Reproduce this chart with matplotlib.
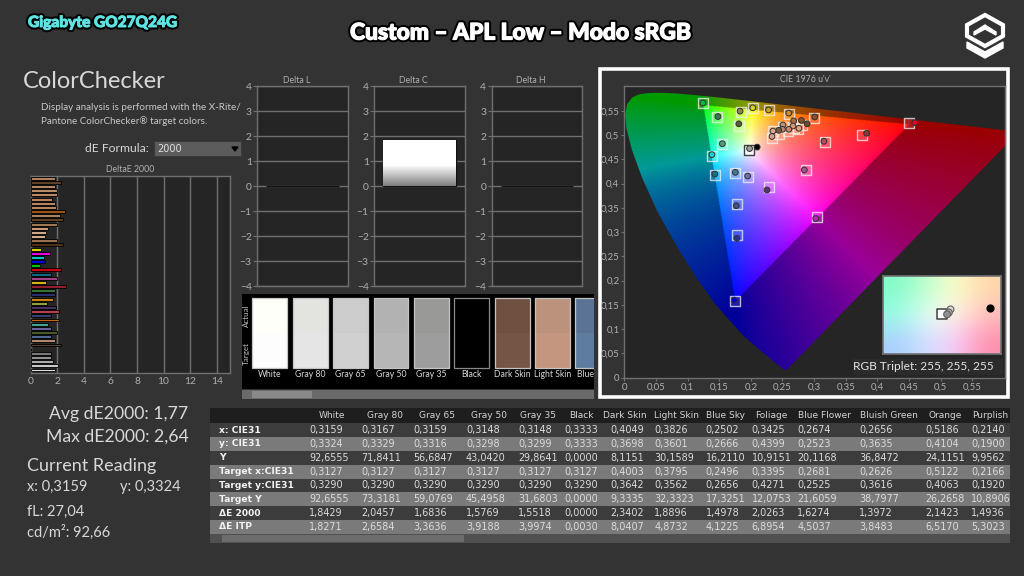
import numpy as np
import matplotlib
matplotlib.use("Agg")
import matplotlib.pyplot as plt
import matplotlib.patheffects as pe
from matplotlib.patches import Polygon, Rectangle

W, H = 1024, 576
BG = "#333333"
PANEL = "#252525"
SPINE = "#707070"
TICK = "#b0b0b0"
TEXT = "#d8d8d8"

plt.rcParams['font.family'] = 'Lato'

# DeltaE 2000 bars, top to bottom
de_values = [1.8, 2.3, 1.85, 1.95, 1.95, 1.6, 1.8, 1.9, 2.6, 2.2, 2.4, 2.0, 1.3, 1.15, 1.05, 1.95, 2.4,
             0.75, 1.45, 1.0, 1.1, 0.7, 2.25, 1.5, 2.0, 1.15, 2.65, 1.8, 1.8, 1.65, 1.25, 1.9, 2.15, 1.5,
             2.15, 1.3, 1.55, 2.0, 1.5, 1.85, 2.3, 0.0, 1.55, 1.55, 1.65, 2.05, 1.85]
de_colors = ["#b08060", "#5e4028", "#b48464", "#b88a66", "#b88864", "#b88060", "#b88060", "#b88260",
             "#985418", "#a88060", "#604020", "#a07850", "#c89878", "#d0a888", "#d0ac8c", "#987050",
             "#503018", "#d8d000", "#e000e0", "#00c0c0", "#0000d8", "#00c000", "#c80010", "#106878",
             "#a04088", "#d8b018", "#902030", "#387038", "#283070", "#c88018", "#90a038", "#483060",
             "#b04050", "#304070", "#c06818", "#48a090", "#686098", "#485828", "#506890", "#b08870",
             "#584030", "#000000", "#787878", "#909090", "#acacac", "#c8c8c8", "#e0e0e0"]
de_ticks = [0, 2, 4, 6, 8, 10, 12, 14]

# Delta L / C / H panels
delta_titles = ["Delta L", "Delta C", "Delta H"]
delta_values = [0.0, 1.85, 0.0]
delta_ticks = [-4, -3, -2, -1, 0, 1, 2, 3, 4]

# Swatch strip
swatch_labels = ["White", "Gray 80", "Gray 65", "Gray 50", "Gray 35", "Black", "Dark Skin", "Light Skin", "Blue Sky"]
swatch_actual = ["#fffff9", "#e3e3e0", "#cccccc", "#b2b2b2", "#999998", "#000000", "#6e4f40", "#bc927c", "#5a7396"]
swatch_target = ["#fdfdfd", "#e5e5e5", "#d0d0d0", "#b6b6b6", "#9d9d9d", "#000000", "#755545", "#c4957f", "#5e7ba0"]

# Spectral locus, CIE 1931 xy
locus_x = [.1741, .1733, .1714, .1644, .1566, .1440, .1241, .1096, .0913, .0687, .0454, .0235, .0082, .0039,
           .0139, .0389, .0743, .1142, .1547, .1929, .2296, .2658, .3016, .3373, .3731, .4441, .5125, .5752,
           .6270, .6658, .6915, .7190, .7347]
locus_y = [.0050, .0048, .0051, .0109, .0177, .0297, .0578, .0868, .1327, .2007, .2950, .4127, .5384, .6548,
           .7502, .8120, .8338, .8262, .8059, .7816, .7543, .7243, .6923, .6589, .6245, .5547, .4866, .4242,
           .3725, .3340, .3083, .2809, .2653]

# Targets and readings on the u'v' chart
target_u = [.1243, .147, .1844, .2034, .2287, .26, .1818, .1538, .1386, .1433, .175, .195, .228, .1776,
            .1776, .1754, .3045, .287, .317, .375, .4505, .2993, .281, .275, .2587, .2513, .2445, .2345, .233, .268]
target_v = [.5653, .536, .5467, .5556, .552, .5426, .5185, .4808, .4567, .4183, .4217, .414, .3935, .357,
            .2946, .1587, .3317, .428, .4856, .5, .5254, .5357, .5206, .5117, .509, .517, .5014, .508, .4945, .5145]
meas_u = [.1243, .148, .183, .203, .228, .26, .181, .155, .1385, .143, .1755, .195, .198, .21, .2255, .177, .178,
          .174, .3025, .2845, .3155, .383, .459, .301, .289, .28, .2676, .276, .2666, .2508, .26, .25, .244, .235, .2334]
meas_v = [.566, .538, .549, .556, .5515, .545, .523, .482, .4595, .4196, .423, .4155, .472, .475, .3867, .3544, .287,
          .16, .328, .428, .487, .5035, .5254, .537, .523, .53, .529, .5137, .5185, .5206, .5117, .5117, .5096, .508, .497]
meas_colors = ["#00c040", "#3c7860", "#88884c", "#d8d020", "#c8a428", "#c88c38", "#585c38", "#50a080", "#20d0d8",
               "#087890", "#487898", "#7070a8", "#a0a0a0", "#000000", "#583868", "#405088", "#283880", "#0000c8",
               "#c020c8", "#a05890", "#b05068", "#903838", "#e80020", "#8c5028", "#784828", "#885030", "#a87048",
               "#e8a080", "#d89878", "#c89070", "#c88870", "#c08468", "#805840", "#d8a890", "#d8a080"]
white_target = (.197, .4698)
ticks_cie = [0, .05, .1, .15, .2, .25, .3, .35, .4, .45, .5, .55]
tick_labels = ["0", "0,05", "0,1", "0,15", "0,2", "0,25", "0,3", "0,35", "0,4", "0,45", "0,5", "0,55"]

# Inset colours and marks
inset_colors = [[(130, 250, 200), (190, 255, 205), (255, 255, 200), (255, 215, 170)],
                [(150, 255, 230), (235, 255, 250), (255, 245, 232), (255, 190, 190)],
                [(170, 205, 255), (210, 225, 255), (250, 200, 250), (255, 140, 170)]]
inset_x = [.542, .557, .571]
inset_y = [.507, .53, .57]
inset_gray = ["#909090", "#b0b0b0", "#d8d8d8"]
inset_target = (.496, .506)
inset_black = (.909, .592)

# Table
col_names = ["White", "Gray 80", "Gray 65", "Gray 50", "Gray 35", "Black", "Dark Skin", "Light Skin", "Blue Sky",
             "Foliage", "Blue Flower", "Bluish Green", "Orange", "Purplish"]
row_names = ["x: CIE31", "y: CIE31", "Y", "Target x:CIE31", "Target y:CIE31", "Target Y", "ΔE 2000", "ΔE ITP"]
row_x = "0,3159 0,3167 0,3159 0,3148 0,3148 0,3333 0,4049 0,3826 0,2502 0,3425 0,2674 0,2656 0,5186 0,2140".split()
row_y = "0,3324 0,3329 0,3316 0,3298 0,3299 0,3333 0,3698 0,3601 0,2666 0,4399 0,2523 0,3635 0,4104 0,1900".split()
row_lum = "92,6555 71,8411 56,6847 43,0420 29,8641 0,0000 8,1151 30,1589 16,2110 10,9151 20,1168 36,8472 24,1151 9,9562".split()
row_tx = "0,3127 0,3127 0,3127 0,3127 0,3127 0,3127 0,4003 0,3795 0,2496 0,3395 0,2681 0,2626 0,5122 0,2166".split()
row_ty = "0,3290 0,3290 0,3290 0,3290 0,3290 0,3290 0,3642 0,3562 0,2656 0,4271 0,2525 0,3616 0,4063 0,1920".split()
row_tlum = "92,6555 73,3181 59,0769 45,4958 31,6803 0,0000 9,3335 32,3323 17,3251 12,0753 21,6059 38,7977 26,2658 10,8906".split()
row_de = "1,8429 2,0457 1,6836 1,5769 1,5518 0,0000 2,3402 1,8896 1,4978 2,0263 1,6274 1,3972 2,1423 1,4936".split()
row_itp = "1,8271 2,6584 3,3636 3,9188 3,9974 0,0030 8,0407 4,8732 4,1225 6,8954 4,5037 3,8483 6,5170 5,3023".split()
table_rows = [row_x, row_y, row_lum, row_tx, row_ty, row_tlum, row_de, row_itp]
col_left = [309, 361.7, 413.7, 466, 518.3, 564.3, 610, 654.3, 705.7, 751.7, 797.3, 859, 925, 971]
col_head = [332, 384.7, 437, 489, 538, 581, 625, 676.7, 725, 771.7, 825, 889, 945, 990]


def px_axes(fig, left, top, right, bottom, **kw):
	return fig.add_axes([left / W, 1 - bottom / H, (right - left) / W, (bottom - top) / H], **kw)


def style_axes(ax):
	ax.set_facecolor(PANEL)
	for s in ax.spines.values():
		s.set_color(SPINE)
		s.set_linewidth(1.0)
	ax.tick_params(colors=TICK, labelsize=7.4, length=3, width=0.8, color=SPINE, pad=1)


def uv_from_xy(x, y):
	x = np.array(x)
	y = np.array(y)
	d = -2 * x + 12 * y + 3
	return 4 * x / d, 9 * y / d


def gamut_image(n=700):
	# Colour of each u'v' position, dimmed outside the sRGB triangle
	u, v = np.meshgrid(np.linspace(0, 0.65, n), np.linspace(0.0, 0.62, n))
	v = np.maximum(v, 1e-4)
	X = 9 * u / (4 * v)
	Z = (12 - 3 * u - 20 * v) / (4 * v)
	r = 3.2406 * X - 1.5372 - 0.4986 * Z
	g = -0.9689 * X + 1.8758 + 0.0415 * Z
	b = 0.0557 * X - 0.2040 + 1.0570 * Z
	rgb = np.dstack([r, g, b])
	inside = rgb.min(axis=2) >= 0
	rgb = np.clip(rgb, 0, None)
	rgb = rgb / np.maximum(rgb.max(axis=2, keepdims=True), 1e-6)
	rgb = rgb ** (1 / 1.35)
	rgb[~inside] *= 0.6
	return rgb


fig = plt.figure(figsize=(W / 100, H / 100), dpi=100, facecolor=BG)

# Page overlay in pixel coordinates
page = fig.add_axes([0, 0, 1, 1])
page.set_xlim(0, W)
page.set_ylim(H, 0)
page.axis('off')

outline = [pe.Stroke(linewidth=3.6, foreground="black"), pe.Stroke(linewidth=0.7, foreground="#5fe3e3"), pe.Normal()]
page.text(28, 23, "Gigabyte GO27Q24G", color="#5fe3e3", fontsize=11.1, fontweight='black', va='center',
          path_effects=outline)
outline = [pe.Stroke(linewidth=3.8, foreground="black"), pe.Stroke(linewidth=0.9, foreground="white"), pe.Normal()]
page.text(520, 33, "Custom – APL Low – Modo sRGB", color="white", fontsize=16.4, fontweight='black', ha='center',
          va='center', path_effects=outline)

# Logo
page.add_patch(Polygon([(985, 15), (1003, 25), (1003, 36), (985, 46), (967, 36), (967, 25)], closed=True, fill=False,
                       edgecolor="white", linewidth=3.0))
page.add_patch(Polygon([(974, 32), (985, 25), (996, 32), (996, 35), (985, 29), (974, 35)], closed=True, color="white"))
page.add_patch(Polygon([(967, 42), (985, 52), (1003, 42), (1003, 48), (985, 58), (967, 48)], closed=True, color="white"))

page.text(23, 81, "ColorChecker", color=TEXT, fontsize=17, va='center')
page.text(41, 108, "Display analysis is performed with the X-Rite/", color="#c8c8c8", fontsize=7.1, va='center')
page.text(41, 121, "Pantone ColorChecker® target colors.", color="#c8c8c8", fontsize=7.1, va='center')
page.text(85, 149, "dE Formula:", color=TEXT, fontsize=8.7, va='center')
page.add_patch(Rectangle((154, 141), 87, 15, facecolor="#5c5c5c", edgecolor="#3a3a3a", linewidth=0.8))
page.text(157, 149, "2000", color="#e0e0e0", fontsize=7, va='center', family='DejaVu Sans')
page.add_patch(Polygon([(232, 147), (238, 147), (235, 151)], closed=True, color="black"))
page.text(130, 169, "DeltaE 2000", color=TICK, fontsize=6.3, ha='center', va='center')

page.text(49, 414, "Avg dE2000: 1,77", color=TEXT, fontsize=12.7, va='center')
page.text(46, 437, "Max dE2000: 2,64", color=TEXT, fontsize=12.7, va='center')
page.text(27, 466, "Current Reading", color=TEXT, fontsize=13, va='center')
page.text(27, 487, "x: 0,3159", color=TEXT, fontsize=10.5, va='center')
page.text(120, 487, "y: 0,3324", color=TEXT, fontsize=10.5, va='center')
page.text(27, 512, "fL: 27,04", color=TEXT, fontsize=10.5, va='center')
page.text(27, 532, "cd/m²: 92,66", color=TEXT, fontsize=10.5, va='center')

# DeltaE bars
ax = px_axes(fig, 30.7, 175.7, 230, 372.5)
style_axes(ax)
ypos = np.arange(len(de_values))
ax.barh(ypos, de_values, height=0.7, color=de_colors, edgecolor="black", linewidth=0.6, zorder=3)
ax.set_xlim(0, 15)
ax.set_ylim(len(de_values) - 0.4, -0.6)
ax.set_yticks([])
ax.set_xticks(de_ticks)
ax.grid(axis='x', color=SPINE, linewidth=1.0, zorder=1)
ax.tick_params(axis='x', length=0, pad=3)

# Delta L/C/H
lefts = [257.3, 374.3, 491.7]
for left, title, val in zip(lefts, delta_titles, delta_values):
	ax = px_axes(fig, left, 86.3, left + 90.7, 286.3)
	style_axes(ax)
	ax.set_xlim(0, 1)
	ax.set_ylim(-4, 4)
	ax.set_xticks([])
	ax.set_yticks(delta_ticks)
	ax.grid(axis='y', color=SPINE, linewidth=1.0, zorder=1)
	bar = ax.bar(0.5, val, width=0.8, color="#111111", edgecolor="#111111", linewidth=1.0, zorder=3)[0]
	if val > 0:
		grad = np.clip((np.linspace(1, 0, 64) / 0.45), 0, 1)[:, None] * 0.5 + 0.5
		im = ax.imshow(grad, extent=[0.1, 0.9, 0, val], cmap='gray', vmin=0, vmax=1, aspect='auto', zorder=4)
		im.set_clip_path(bar)
		ax.set_xlim(0, 1)
		ax.set_ylim(-4, 4)
	page.text(left + 39, 80.5, title, color=TICK, fontsize=6.3, ha='center', va='center')

# Swatch strip
ax = px_axes(fig, 242, 294, 594, 389)
ax.set_facecolor("black")
ax.set_xlim(-0.688, 8.025)
ax.set_ylim(-0.603, 2.123)
ax.set_xticks([])
ax.set_yticks([])
for s in ax.spines.values():
	s.set_visible(False)
idx = np.arange(len(swatch_labels))
edge = ["#c4c4c4"] * len(idx)
edge[5] = "#8a8a8a"
ax.bar(idx, 1, bottom=1, width=0.866, color=swatch_actual, linewidth=0)
ax.bar(idx, 1, bottom=0, width=0.866, color=swatch_target, linewidth=0)
ax.bar(idx, 2, bottom=0, width=0.866, fill=False, edgecolor=edge, linewidth=0.9)
for i, name in enumerate(swatch_labels):
	ax.text(i, -0.2, name, color="#d8d8d8", fontsize=6.2, ha='center', va='center', clip_on=True)
ax.text(-0.57, 1.5, "Actual", color="#c0c0c0", fontsize=5.8, rotation=90, ha='center', va='center')
ax.text(-0.57, 0.42, "Target", color="#c0c0c0", fontsize=5.8, rotation=90, ha='center', va='center')
page.add_patch(Rectangle((242, 390), 352, 9, facecolor="#6a6a6a", edgecolor="none"))
page.add_patch(Rectangle((252, 391), 60, 7, facecolor="#8a8a8a", edgecolor="none"))

# CIE panel frame
page.add_patch(Rectangle((600, 69), 407.5, 328, facecolor=BG, edgecolor="white", linewidth=2.6))
page.text(805, 79.3, "CIE 1976 u'v'", color=TICK, fontsize=6.3, ha='center', va='center')

ax = px_axes(fig, 624.3, 85.7, 1005, 377.7)
style_axes(ax)
ax.set_xlim(0, 0.6017)
ax.set_ylim(0, 0.6015)
ax.set_xticks(ticks_cie)
ax.set_xticklabels(tick_labels)
ax.set_yticks(ticks_cie)
ax.set_yticklabels(tick_labels)
ax.tick_params(axis='both', labelsize=6.9, length=2.5)
lu, lv = uv_from_xy(locus_x, locus_y)
horse = Polygon(np.column_stack([lu, lv]), closed=True, transform=ax.transData, facecolor="none", edgecolor="none")
ax.add_patch(horse)
im = ax.imshow(gamut_image(), origin='lower', extent=[0, 0.65, 0, 0.62], interpolation='bilinear', aspect='auto', zorder=1)
im.set_clip_path(horse)
ax.set_xlim(0, 0.6017)
ax.set_ylim(0, 0.6015)
ax.scatter(target_u, target_v, s=48, marker='s', facecolors=(1, 1, 1, 0.12), edgecolors=(.95, .95, .95, .75), linewidths=1.0, zorder=4)
ax.scatter([white_target[0]], [white_target[1]], s=50, marker='s', facecolors=(1, 1, 1, 0.5), edgecolors="#404040", linewidths=1.0, zorder=4)
ax.scatter(meas_u, meas_v, s=17, c=meas_colors, edgecolors="#303030", linewidths=0.7, zorder=5)

# Inset
ins = px_axes(fig, 883.3, 276, 1001, 353.7)
ins.imshow(np.array(inset_colors, dtype=np.uint8), interpolation='bicubic', extent=[0, 1, 0, 1], aspect='auto')
ins.set_xlim(0, 1)
ins.set_ylim(0, 1)
ins.set_xticks([])
ins.set_yticks([])
for s in ins.spines.values():
	s.set_color("#707070")
	s.set_linewidth(1.2)
ins.scatter([inset_target[0]], [inset_target[1]], s=60, marker='s', facecolors=(1, 1, 1, 0.8), edgecolors="#404040", linewidths=1.1, zorder=4)
ins.scatter(inset_x[::-1], inset_y[::-1], s=24, c=inset_gray[::-1], edgecolors="#606060", linewidths=0.8, zorder=5)
ins.scatter([inset_black[0]], [inset_black[1]], s=24, c="black", zorder=6)

over = fig.add_axes([0, 0, 1, 1], facecolor='none')
over.set_xlim(0, W)
over.set_ylim(H, 0)
over.axis('off')
over.add_patch(Rectangle((853, 359), 150, 16, facecolor="#2c2c2c", edgecolor="none", alpha=0.95))
over.text(853, 367, "RGB Triplet: 255, 255, 255", color="#e4e4e4", fontsize=8.6, va='center')

# Table
ax = px_axes(fig, 210, 408, 1010, 543)
ax.set_xlim(210, 1010)
ax.set_ylim(543, 408)
ax.axis('off')
ax.add_patch(Rectangle((210, 408), 800, 15, facecolor="#1e1e1e", edgecolor="none"))
row_h = 13.8
for r, (name, vals) in enumerate(zip(row_names, table_rows)):
	y0 = 423.3 + r * row_h
	ax.add_patch(Rectangle((210, y0), 800, row_h, facecolor="#7a7a7a" if r % 2 else "#3c3c3c", edgecolor="none"))
	ax.text(219, y0 + row_h / 2, name, color="#f2f2f2", fontsize=6.6, fontweight='bold', va='center',
	        family='DejaVu Sans', clip_on=True)
	for xl, val in zip(col_left, vals):
		ax.text(xl, y0 + row_h / 2, val, color="#dcdcdc", fontsize=6.9, va='center', family='DejaVu Sans', clip_on=True)
for xc, name in zip(col_head, col_names):
	ax.text(xc, 416, name, color="#d4d4d4", fontsize=6.5, ha='center', va='center', family='DejaVu Sans', clip_on=True)
ax.add_patch(Rectangle((210, 534), 800, 9, facecolor="#505050", edgecolor="none"))
ax.add_patch(Rectangle((222, 535), 242, 7, facecolor="#6c6c6c", edgecolor="none"))

fig.savefig("out.png", dpi=100, facecolor=BG)
